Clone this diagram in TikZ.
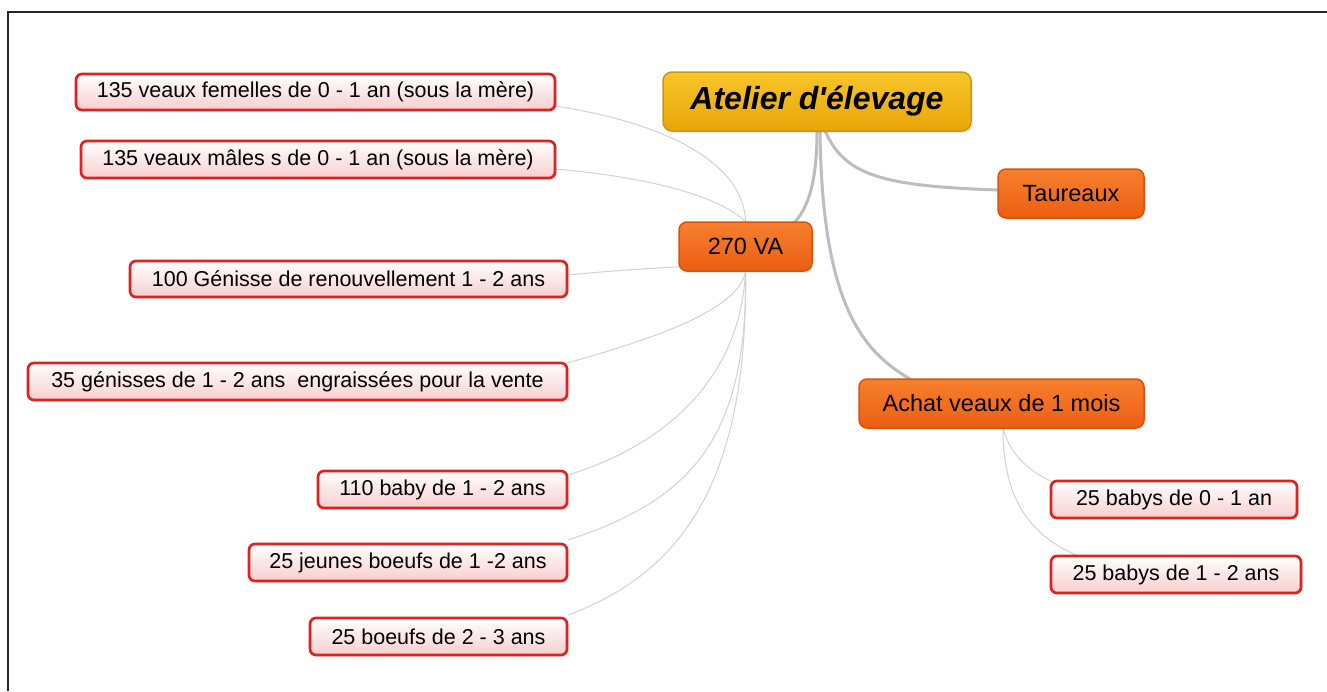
\documentclass[tikz,border=0pt]{standalone}
\usepackage{fontspec}
\setmainfont{Liberation Sans}
\usetikzlibrary{shadows}
\definecolor{leafred}{HTML}{DD2222}
\definecolor{leafpink}{HTML}{F8CECE}
\definecolor{orgtop}{HTML}{F6802F}
\definecolor{orgbot}{HTML}{EC5E12}
\definecolor{orgline}{HTML}{D65310}
\definecolor{goldtop}{HTML}{F7C52A}
\definecolor{goldbot}{HTML}{E8A608}
\definecolor{goldline}{HTML}{C99A12}
\definecolor{thickgray}{HTML}{BDBDBD}
\definecolor{thingray}{HTML}{D2D2D2}
\tikzset{
  leaf/.style={draw=leafred, line width=2.7pt, rounded corners=6pt,
    top color=white, bottom color=leafpink, inner sep=0pt,
    font=\fontsize{21.5}{25}\selectfont,
    drop shadow={opacity=0.12, shadow xshift=2pt, shadow yshift=-2pt}},
  orgbox/.style={draw=orgline, line width=1.5pt, rounded corners=8pt,
    top color=orgtop, bottom color=orgbot, inner sep=0pt,
    font=\fontsize{23.5}{27}\selectfont,
    drop shadow={opacity=0.15, shadow xshift=2pt, shadow yshift=-2pt}},
  rootbox/.style={draw=goldline, line width=1.5pt, rounded corners=9pt,
    top color=goldtop, bottom color=goldbot, inner sep=0pt,
    font=\fontsize{32}{37}\selectfont\bfseries\itshape,
    drop shadow={opacity=0.15, shadow xshift=2pt, shadow yshift=-2pt}},
  thickcon/.style={draw=thickgray, line width=3pt},
  thincon/.style={draw=thingray, line width=1pt},
}
\begin{document}
\begin{tikzpicture}[x=1pt,y=-1pt]
\useasboundingbox (0,0) rectangle (1327,691);
\fill[white] (0,0) rectangle (1327,691);
\draw[line width=1.6pt, black!85] (8,691) -- (8,12) -- (1327,12);

% connector end points
\coordinate (vaT) at (745.5,222);
\coordinate (vaB) at (745.5,271);
\coordinate (vaW) at (679,267);
\coordinate (rB1) at (817,131);
\coordinate (rB2) at (820,131);
\coordinate (rB3) at (825,131);
\coordinate (vaTR) at (795,222);
\coordinate (acT) at (910,379);
\coordinate (tauW) at (998,190);
\coordinate (acB) at (1003,428);
\coordinate (l1e) at (555,106);
\coordinate (l2e) at (555,169);
\coordinate (l3e) at (567,275);
\coordinate (l4e) at (567,363);
\coordinate (l5e) at (568,475);
\coordinate (l6e) at (568,540);
\coordinate (l7e) at (568,615);
\coordinate (l8w) at (1053,482);
\coordinate (l9t) at (1078,556);

\draw[thickcon] (rB1) .. controls (817,190) and (805,210) .. (vaTR);
\draw[thickcon] (rB2) .. controls (822,300) and (860,350) .. (acT);
\draw[thickcon] (rB3) .. controls (845,175) and (880,186) .. (tauW);

\draw[thincon] (l1e) .. controls (680,125) and (745,170) .. (vaT);
\draw[thincon] (l2e) .. controls (660,178) and (725,200) .. (vaT);
\draw[thincon] (l3e) .. controls (610,271) and (650,268) .. (vaW);
\draw[thincon] (l4e) .. controls (650,340) and (740,310) .. (vaB);
\draw[thincon] (vaB) .. controls (740,390) and (650,450) .. (l5e);
\draw[thincon] (vaB) .. controls (748,440) and (690,500) .. (l6e);
\draw[thincon] (vaB) .. controls (748,470) and (690,570) .. (l7e);
\draw[thincon] (acB) .. controls (1010,455) and (1030,472) .. (l8w);
\draw[thincon] (acB) .. controls (1003,500) and (1030,535) .. (l9t);

% nodes
\node[rootbox, minimum width=308, minimum height=59] (root) at (817,101.5) {Atelier d\textquotesingle élevage};
\node[orgbox, minimum width=133, minimum height=49] (va) at (745.5,246.5) {270 VA};
\node[orgbox, minimum width=146, minimum height=49] (taur) at (1071,193.5) {Taureaux};
\node[orgbox, minimum width=285, minimum height=49] (achat) at (1001.5,403.5) {Achat veaux de 1 mois};

\node[leaf, minimum width=479, minimum height=36] (l1) at (315.5,92) {135 veaux femelles de 0 - 1 an (sous la mère)};
\node[leaf, minimum width=474, minimum height=37] (l2) at (318,159.5) {135 veaux mâles s de 0 - 1 an (sous la mère)};
\node[leaf, minimum width=437, minimum height=36] (l3) at (348.5,279) {100 Génisse de renouvellement 1 - 2 ans};
\node[leaf, minimum width=539, minimum height=37] (l4) at (297.5,381.5) {35 génisses de 1 - 2 ans\ \ engraissées pour la vente};
\node[leaf, minimum width=249, minimum height=37] (l5) at (442.5,489.5) {110 baby de 1 - 2 ans};
\node[leaf, minimum width=318, minimum height=37] (l6) at (408,562.5) {25 jeunes boeufs de 1 -2 ans};
\node[leaf, minimum width=257, minimum height=37] (l7) at (438.5,636.5) {25 boeufs de 2 - 3 ans};
\node[leaf, minimum width=246, minimum height=37] (l8) at (1174,499.5) {25 babys de 0 - 1 an};
\node[leaf, minimum width=250, minimum height=37] (l9) at (1176,574.5) {25 babys de 1 - 2 ans};
\end{tikzpicture}
\end{document}
